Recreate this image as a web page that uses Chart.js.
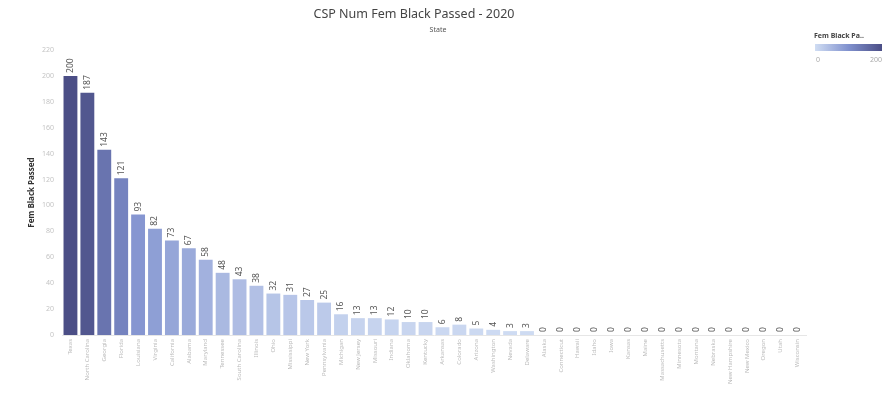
<!DOCTYPE html>
<html><head><meta charset="utf-8">
<script src="https://cdn.jsdelivr.net/npm/chart.js@4/dist/chart.umd.min.js"></script>
<style>html,body{margin:0;padding:0;background:#fff;}#wrap{width:886px;height:406px;}</style>
</head><body><div id="wrap"><canvas id="c" width="886" height="406"></canvas></div>
<script>
const states = ['Texas','North Carolina','Georgia','Florida','Louisiana','Virginia','California','Alabama','Maryland','Tennessee','South Carolina','Illinois','Ohio','Mississippi','New York','Pennsylvania','Michigan','New Jersey','Missouri','Indiana','Oklahoma','Kentucky','Arkansas','Colorado','Arizona','Washington','Nevada','Delaware','Alaska','Connecticut','Hawaii','Idaho','Iowa','Kansas','Maine','Massachusetts','Minnesota','Montana','Nebraska','New Hampshire','New Mexico','Oregon','Utah','Wisconsin'];
const passed = [200,187,143,121,93,82,73,67,58,48,43,38,32,31,27,25,16,13,13,12,10,10,6,8,5,4,3,3,0,0,0,0,0,0,0,0,0,0,0,0,0,0,0,0];
const yTickMax = 220;
const yTickStep = 20;
const titleText = 'CSP Num Fem Black Passed - 2020';
const subtitleText = 'State';
const yTitle = 'Fem Black Passed';
const legendTitle = 'Fem Black Pa..';
const legendRange = [0, 200];
const colorStops = [[0,[208,221,243]],[0.5,[128,145,206]],[1,[75,78,134]]];

function colorFor(v){
  const t = Math.max(0, Math.min(1, (v - legendRange[0])/(legendRange[1]-legendRange[0])));
  for (let i=1;i<colorStops.length;i++){
    const [t1,c1]=colorStops[i];const [t0,c0]=colorStops[i-1];
    if (t<=t1){const f=(t-t0)/(t1-t0);return 'rgb('+c0.map((c,j)=>Math.round(c+(c1[j]-c)*f)).join(',')+')';}
  }
  return 'rgb('+colorStops[colorStops.length-1][1].join(',')+')';
}

const decor = {
  id:'decor',
  afterDatasetsDraw(chart){
    const ctx = chart.ctx;
    const meta = chart.getDatasetMeta(0);
    ctx.save();
    ctx.font = '8.5px "Noto Sans"';
    ctx.fillStyle = '#555';
    ctx.textAlign = 'left';
    ctx.textBaseline = 'middle';
    meta.data.forEach((bar,i)=>{
      ctx.save();
      ctx.translate(bar.x, bar.y - 3);
      ctx.rotate(-Math.PI/2);
      ctx.fillText(String(passed[i]), 0, 0);
      ctx.restore();
    });
    ctx.restore();
  },
  afterDraw(chart){
    const ctx = chart.ctx;
    ctx.save();
    ctx.textAlign='center';ctx.textBaseline='middle';
    ctx.fillStyle='#444';
    ctx.font='12.5px "Noto Sans"';
    ctx.fillText(titleText, 414, 14);
    ctx.font='7px "Noto Sans"';
    ctx.fillStyle='#555';
    ctx.fillText(subtitleText, 438, 30);
    ctx.textAlign='left';
    ctx.font='bold 7px "Noto Sans"';
    ctx.fillStyle='#444';
    ctx.fillText(legendTitle, 814, 36);
    const g = ctx.createLinearGradient(815,0,882,0);
    colorStops.forEach(([t,c])=>g.addColorStop(t,'rgb('+c.join(',')+')'));
    ctx.fillStyle=g;
    ctx.fillRect(815,44,67,7);
    ctx.font='7px "Noto Sans"';
    ctx.fillStyle='#aaa';
    ctx.fillText(String(legendRange[0]), 816, 60);
    ctx.textAlign='right';
    ctx.fillText(String(legendRange[1]), 882, 60);
    ctx.restore();
  }
};

new Chart(document.getElementById('c'), {
  type:'bar',
  data:{labels:states, datasets:[{data:passed, backgroundColor:passed.map(colorFor), barPercentage:0.82, categoryPercentage:1.0}]},
  options:{
    responsive:false, animation:false, devicePixelRatio:1,
    layout:{padding:{top:50,right:80,left:0,bottom:0}},
    plugins:{legend:{display:false},tooltip:{enabled:false},title:{display:false}},
    scales:{
      x:{
        grid:{display:false, drawTicks:false},
        border:{display:true, color:'#e6e6e6'},
        ticks:{autoSkip:false, minRotation:90, maxRotation:90, font:{size:6, family:'"Noto Sans"'}, color:'#bbb', padding:4},
        afterFit(s){ s.height = 71; }
      },
      y:{
        min:0, max:yTickMax,
        grid:{display:false, drawTicks:false},
        border:{display:false},
        ticks:{stepSize:yTickStep, font:{size:7, family:'"Noto Sans"'}, color:'#c4c4c4', padding:8},
        title:{display:true, text:yTitle, font:{size:8, weight:'bold', family:'"Noto Sans"'}, color:'#333', padding:{top:27,bottom:0}},
        afterFit(s){ s.width = 62; }
      }
    }
  },
  plugins:[decor]
});
</script></body></html>
